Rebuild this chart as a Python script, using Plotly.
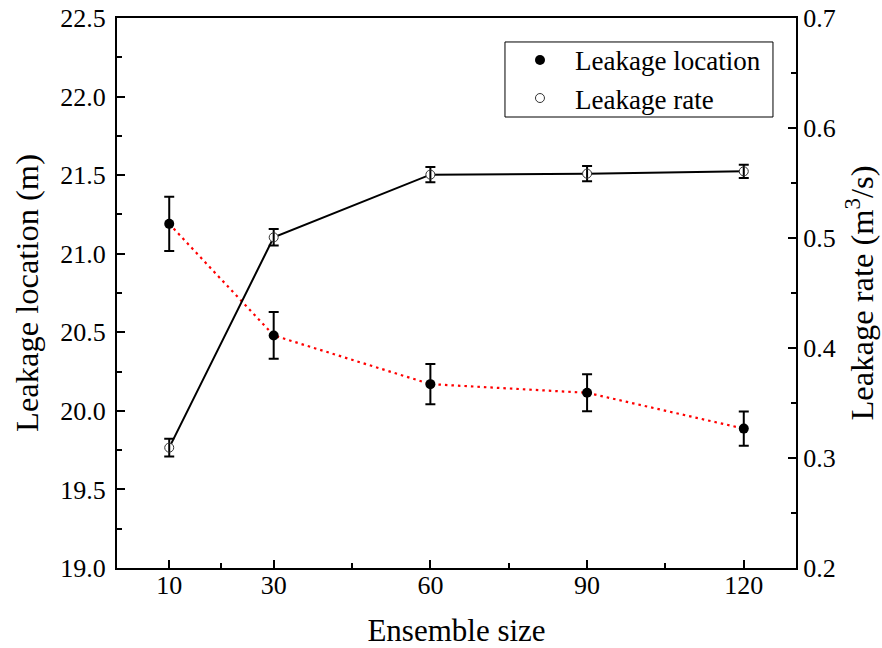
import plotly.graph_objects as go

ensemble_size = [10, 30, 60, 90, 120]
loc_mean = [21.19, 20.48, 20.17, 20.115, 19.887]
loc_err = [0.172, 0.149, 0.128, 0.118, 0.109]
rate_mean = [0.3094, 0.5006, 0.5576, 0.5585, 0.5606]
rate_err = [0.008, 0.0075, 0.007, 0.007, 0.006]

x_ticks = [10, 30, 60, 90, 120]
x_minor = [20, 45, 75, 105]

FONT = "Liberation Serif"

fig = go.Figure()

# Leakage location: red dotted line + filled black markers with error bars
fig.add_trace(go.Scatter(
    x=ensemble_size, y=loc_mean, mode="lines",
    line=dict(color="#ff0000", width=2.2, dash="2.5px,4px"),
    showlegend=False, hoverinfo="skip"))
fig.add_trace(go.Scatter(
    x=ensemble_size, y=loc_mean, mode="markers", name="Leakage location",
    marker=dict(symbol="circle", size=10, color="black"),
    error_y=dict(type="data", array=loc_err, visible=True, color="black",
                 thickness=2, width=5),
    legendrank=1))

# Leakage rate on secondary axis
fig.add_trace(go.Scatter(
    x=ensemble_size, y=rate_mean, mode="lines", yaxis="y2",
    line=dict(color="black", width=2),
    showlegend=False, hoverinfo="skip"))
fig.add_trace(go.Scatter(
    x=ensemble_size, y=rate_mean, mode="markers", yaxis="y2",
    marker=dict(symbol="circle", size=9, color="white",
                line=dict(color="white", width=0)),
    showlegend=False, hoverinfo="skip"))
fig.add_trace(go.Scatter(
    x=ensemble_size, y=rate_mean, mode="markers", yaxis="y2", name="Leakage rate",
    marker=dict(symbol="circle-open", size=9, color="#333333",
                line=dict(width=1)),
    error_y=dict(type="data", array=rate_err, visible=True, color="black",
                 thickness=2, width=5),
    legendrank=2))

fig.update_layout(
    width=882, height=648,
    margin=dict(l=117, r=86, t=18, b=80, autoexpand=False),
    paper_bgcolor="white", plot_bgcolor="white",
    font=dict(family=FONT, size=26, color="black"),
    showlegend=True,
    legend=dict(x=0.5714, y=0.9675, xanchor="left", yanchor="top",
                borderwidth=0, bgcolor="rgba(0,0,0,0)",
                font=dict(family=FONT, size=27, color="black"),
                itemwidth=60, tracegroupgap=0),
    shapes=[dict(type="rect", xref="paper", yref="paper",
                 x0=0.5714, x1=0.9661, y0=0.82, y1=0.9564,
                 line=dict(color="black", width=1), fillcolor="rgba(0,0,0,0)",
                 layer="above")],
    xaxis=dict(
        range=[0, 130], tickmode="array", tickvals=x_ticks,
        ticktext=[str(v) for v in x_ticks], automargin=False,
        ticks="inside", ticklen=8, tickwidth=1.5, tickcolor="black",
        showline=True, linecolor="black", linewidth=2, mirror=True,
        showgrid=False, zeroline=False, ticklabelstandoff=-7,
        ticklabeloverflow="allow",
        minor=dict(tickmode="array", tickvals=x_minor, ticks="inside",
                   ticklen=5, tickwidth=1.5, tickcolor="black", showgrid=False),
        title=dict(text="Ensemble size", font=dict(size=31), standoff=24),
        tickfont=dict(size=26),
    ),
    yaxis=dict(
        range=[19.0, 22.5], tickmode="linear", tick0=19.0, dtick=0.5,
        tickformat=".1f", automargin=False, ticklabelstandoff=4,
        ticklabeloverflow="allow",
        ticks="inside", ticklen=8, tickwidth=1.5, tickcolor="black",
        showline=True, linecolor="black", linewidth=2,
        showgrid=False, zeroline=False,
        minor=dict(dtick=0.25, ticks="inside", ticklen=5, tickwidth=1.5,
                   tickcolor="black", showgrid=False),
        title=dict(text="Leakage location (m)", font=dict(size=32.5), standoff=12),
        tickfont=dict(size=26),
    ),
    yaxis2=dict(
        range=[0.2, 0.7], tickmode="linear", tick0=0.2, dtick=0.1,
        tickformat=".1f", overlaying="y", side="right", automargin=False,
        ticklabeloverflow="allow",
        ticks="inside", ticklen=8, tickwidth=1.5, tickcolor="black",
        showline=True, linecolor="black", linewidth=2,
        showgrid=False, zeroline=False,
        minor=dict(dtick=0.05, ticks="inside", ticklen=5, tickwidth=1.5,
                   tickcolor="black", showgrid=False),
        title=dict(text="Leakage rate (m<sup>3</sup>/s)", font=dict(size=32.5), standoff=16),
        tickfont=dict(size=26),
    ),
)

fig.write_html("out.html", config={"displayModeBar": False},
               post_script="document.body.style.margin='0';")
